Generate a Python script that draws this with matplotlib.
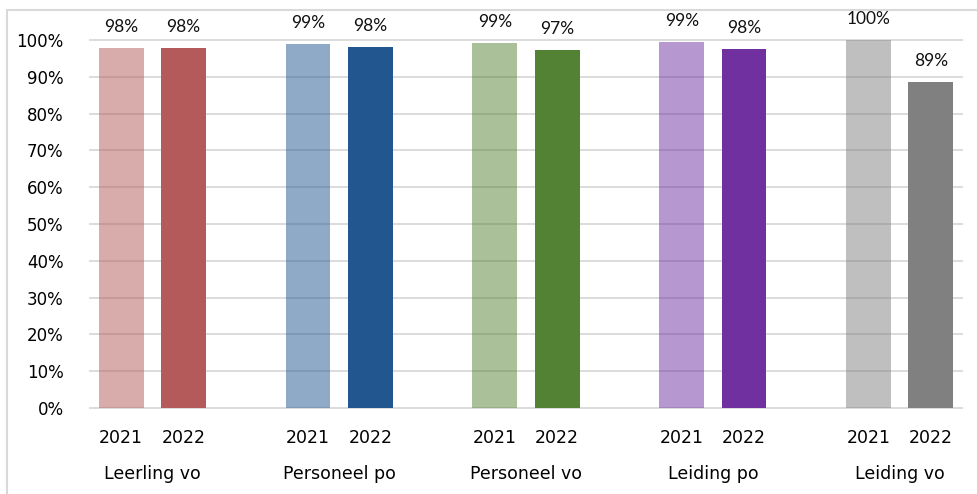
import matplotlib
matplotlib.use("Agg")
import matplotlib.pyplot as plt
import matplotlib.transforms as mtransforms
from matplotlib.patches import Rectangle

# data
groups = ["Leerling vo", "Personeel po", "Personeel vo", "Leiding po", "Leiding vo"]
years = ["2021", "2022"]
values_2021 = [97.8, 98.9, 99.2, 99.4, 100.0]
values_2022 = [97.8, 98.1, 97.3, 97.6, 88.6]
colors = ["#b55a5a", "#21568f", "#548235", "#7030a0", "#808080"]

W, H = 978, 494
fig = plt.figure(figsize=(W / 100, H / 100), dpi=100)
ax = fig.add_axes([90 / W, 1 - 408 / H, (962 - 90) / W, (408 - 40) / H])

axis_font = ["DejaVu Sans"]
label_font = ["Lato", "DejaVu Sans"]
grid_color = "#d9d9d9"

# outer chart frame (runs off the right and bottom edge)
fig.patches.append(Rectangle((7.5 / W, -0.1), 1.2, 1.1 - 10.5 / H,
                             transform=fig.transFigure, fill=False,
                             edgecolor=grid_color, lw=1.5, zorder=0))

# gridlines behind the bars
for t in range(0, 101, 10):
    ax.axhline(t, color=grid_color, lw=1.3, zorder=0, clip_on=False)

bar_w = 0.72
xticks, xlabels = [], []
for i, g in enumerate(groups):
    x21 = i * 3
    x22 = i * 3 + 1
    ax.bar(x21, values_2021[i], width=bar_w, color=colors[i], alpha=0.5, zorder=2)
    ax.bar(x22, values_2022[i], width=bar_w, color=colors[i], zorder=2)
    for x, v in [(x21, values_2021[i]), (x22, values_2022[i])]:
        ax.annotate(f"{round(v)}%", xy=(x, v), xytext=(0, 15), textcoords="offset points",
                    ha="center", va="center", fontsize=12.5, family=label_font,
                    color="#111111", annotation_clip=False)
    xticks += [x21, x22]
    xlabels += years

ax.set_xlim(-0.5, 13.5)
ax.set_ylim(0, 100)
ax.set_yticks(range(0, 101, 10))
ax.set_yticklabels([f"{t}%" for t in range(0, 101, 10)], fontsize=12, family=axis_font)
ax.set_xticks(xticks)
ax.set_xticklabels(xlabels, fontsize=12.5, family=axis_font)
ax.tick_params(axis="both", length=0, colors="#000000")
ax.tick_params(axis="x", pad=15)
ax.tick_params(axis="y", pad=19)
for s in ax.spines.values():
    s.set_visible(False)

# group names under the year labels
trans = mtransforms.blended_transform_factory(ax.transData, fig.transFigure)
for i, g in enumerate(groups):
    ax.text(i * 3 + 0.5, 1 - 474 / H, g, transform=trans, ha="center", va="center",
            fontsize=12.5, family=axis_font, color="#000000")

fig.savefig("out.png", dpi=100)
